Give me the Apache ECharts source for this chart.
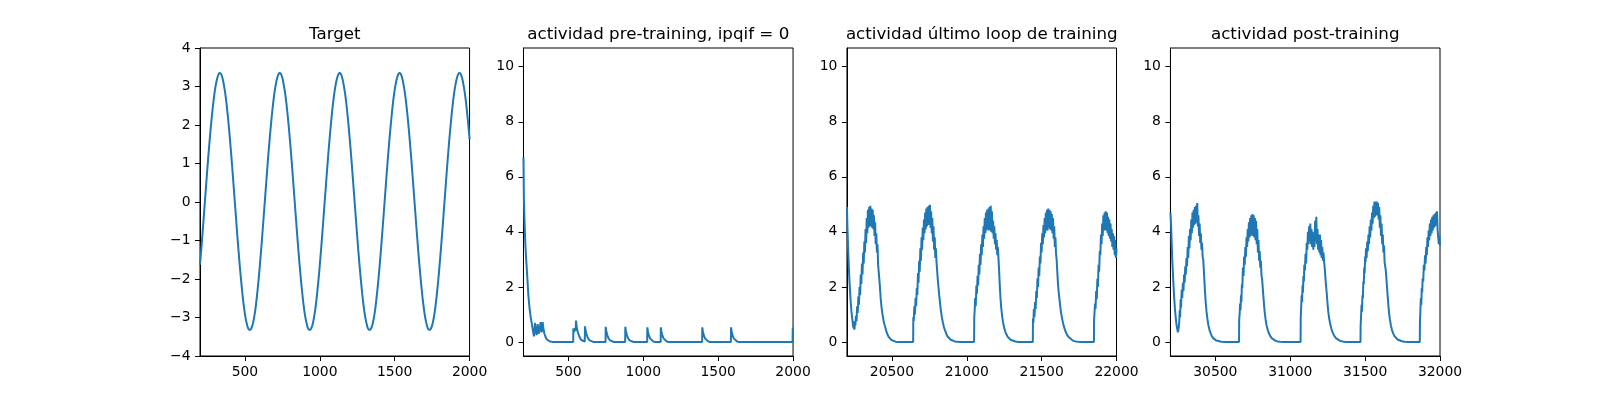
<!DOCTYPE html>
<html>
<head>
<meta charset="utf-8">
<script src="https://cdn.jsdelivr.net/npm/echarts@6/dist/echarts.min.js"></script>
<style>
html,body{margin:0;padding:0;background:#fff;}
#chart{width:1600px;height:400px;}
</style>
</head>
<body>
<div id="chart"></div>
<script>
// ---------- DATA ----------
const panelTitles = ['Target', 'actividad pre-training, ipqif = 0', 'actividad último loop de training', 'actividad post-training'];

// Target: sampled every 10 time units from t = 200
const targetStart = 200;
const targetStep = 10;
const targetValues = [
-1.63,-1.16,-0.65,-0.13,0.39,0.91,1.40,1.85,2.26,2.62,2.91,3.13,3.28,3.35,3.33,3.22,3.03,2.78,2.45,2.07,
1.63,1.16,0.65,0.13,-0.39,-0.91,-1.40,-1.85,-2.26,-2.62,-2.91,-3.12,-3.27,-3.32,-3.30,-3.21,-3.03,-2.78,-2.45,-2.07,
-1.63,-1.16,-0.65,-0.13,0.39,0.91,1.40,1.85,2.26,2.62,2.91,3.13,3.28,3.35,3.33,3.22,3.03,2.78,2.45,2.07,
1.63,1.16,0.65,0.13,-0.39,-0.91,-1.40,-1.85,-2.26,-2.62,-2.91,-3.12,-3.27,-3.32,-3.30,-3.21,-3.03,-2.78,-2.45,-2.07,
-1.63,-1.16,-0.65,-0.13,0.39,0.91,1.40,1.85,2.26,2.62,2.91,3.13,3.28,3.35,3.33,3.22,3.03,2.78,2.45,2.07,
1.63,1.16,0.65,0.13,-0.39,-0.91,-1.40,-1.85,-2.26,-2.62,-2.91,-3.12,-3.27,-3.32,-3.30,-3.21,-3.03,-2.78,-2.45,-2.07,
-1.63,-1.16,-0.65,-0.13,0.39,0.91,1.40,1.85,2.26,2.62,2.91,3.13,3.28,3.35,3.33,3.22,3.03,2.78,2.45,2.07,
1.63,1.16,0.65,0.13,-0.39,-0.91,-1.40,-1.85,-2.26,-2.62,-2.91,-3.12,-3.27,-3.32,-3.30,-3.21,-3.03,-2.78,-2.45,-2.07,
-1.63,-1.16,-0.65,-0.13,0.39,0.91,1.40,1.85,2.26,2.62,2.91,3.13,3.28,3.35,3.33,3.22,3.03,2.78,2.45,2.07,
1.63
];

// Pre-training activity [t, value]
const preTraining = [
[200,6.7],[203,5.2],[207,4.4],[212,3.6],[218,3.0],[225,2.4],[232,1.75],[240,1.25],[248,0.9],[255,0.68],[262,0.45],[267,0.3],[270,0.2],
[277,0.69],[282,0.42],[288,0.25],[295,0.65],[299,0.42],[303,0.3],[315,0.72],[318,0.5],[321,0.35],[328,0.72],[333,0.48],[340,0.3],
[348,0.17],[356,0.09],[366,0.04],[378,0.015],[392,0.003],[405,0],
[532,0],[533,0.5],[537,0.35],[541,0.3],[545,0.5],[548,0.4],[551,0.78],[555,0.55],[560,0.42],[566,0.3],[574,0.18],[584,0.08],[596,0.03],[609,0.01],
[611,0.57],[615,0.42],[621,0.28],[629,0.15],[639,0.07],[651,0.025],[666,0],
[748,0],[749,0.55],[753,0.4],[759,0.26],[767,0.14],[777,0.06],[789,0.02],[804,0],
[879,0],[880,0.55],[884,0.4],[890,0.26],[898,0.14],[908,0.06],[920,0.02],[935,0],
[1026,0],[1027,0.53],[1031,0.38],[1037,0.25],[1045,0.13],[1055,0.06],[1067,0.02],[1082,0],
[1116,0],[1117,0.53],[1121,0.38],[1127,0.25],[1135,0.13],[1145,0.06],[1157,0.02],[1172,0],
[1393,0],[1394,0.53],[1398,0.38],[1404,0.25],[1412,0.13],[1422,0.06],[1434,0.02],[1449,0],
[1585,0],[1586,0.53],[1590,0.38],[1596,0.25],[1604,0.13],[1614,0.06],[1626,0.02],[1641,0],
[1997,0],[1998,0.52],[2000,0.46]
];

// Last training loop activity [t, value]
const lastLoop = [
[20200,4.9],[20203,4.2],[20207,3.5],[20211,2.9],[20215,2.4],[20220,1.9],[20225,1.45],[20230,1.1],[20235,0.85],[20240,0.62],[20244,0.5],[20247,0.75],[20250,0.45],[20253,0.7],
[20256,0.6],[20260,0.95],[20264,0.75],[20268,1.3],[20272,1.05],[20276,1.65],[20280,1.35],[20284,2.0],[20288,1.7],[20292,2.45],[20296,2.1],[20300,2.85],[20304,2.45],[20308,3.25],[20312,2.85],
[20316,3.65],[20320,3.25],[20324,4.1],[20328,3.6],[20332,4.5],[20336,3.95],[20340,4.8],[20344,4.15],[20348,4.9],[20352,4.2],[20356,4.95],[20360,4.2],[20364,4.85],[20368,4.15],[20372,4.8],
[20376,4.1],[20380,4.6],[20384,3.85],[20388,4.35],[20392,3.55],[20396,3.95],[20400,3.25],[20404,3.55],[20408,2.8],[20412,2.75],[20416,2.3],[20420,2.0],[20425,1.6],[20430,1.3],[20436,1.05],
[20442,0.85],[20448,0.68],[20455,0.55],[20462,0.4],[20470,0.28],[20478,0.19],[20487,0.12],[20497,0.07],[20510,0.03],[20525,0.01],[20540,0],
[20642,0],[20643,0.9],[20646,0.75],[20650,1.3],[20654,1.0],[20658,1.6],[20662,1.3],[20666,1.95],[20670,1.7],[20674,2.5],[20678,2.15],[20682,2.95],[20686,2.55],[20690,3.4],[20694,2.95],
[20698,3.8],[20702,3.35],[20706,4.15],[20710,3.7],[20714,4.45],[20718,3.95],[20722,4.7],[20726,4.1],[20730,4.85],[20734,4.2],[20738,4.9],[20742,4.25],[20746,4.95],[20750,4.25],[20754,4.98],
[20758,4.15],[20762,4.75],[20766,3.95],[20770,4.5],[20774,3.65],[20778,4.2],[20782,3.35],[20786,3.8],[20790,3.05],[20794,3.4],[20798,2.9],[20802,2.6],[20806,2.3],[20811,2.0],[20816,1.7],
[20821,1.45],[20827,1.15],[20833,0.92],[20840,0.72],[20847,0.55],[20855,0.42],[20863,0.3],[20872,0.2],[20882,0.13],[20893,0.08],[20905,0.05],[20920,0.02],[20940,0.005],[20960,0],
[21049,0],[21050,0.9],[21053,1.15],[21056,1.6],[21060,1.3],[21064,2.05],[21068,1.75],[21072,2.4],[21076,2.05],[21080,2.8],[21084,2.45],[21088,3.2],[21092,2.8],[21096,3.55],[21100,3.15],
[21104,3.9],[21108,3.45],[21112,4.2],[21116,3.75],[21120,4.5],[21124,3.95],[21128,4.7],[21132,4.05],[21136,4.8],[21140,4.1],[21144,4.85],[21148,4.05],[21152,4.9],[21156,4.05],[21160,4.95],
[21164,4.0],[21168,4.75],[21172,3.95],[21176,4.4],[21180,3.75],[21184,4.2],[21188,3.55],[21192,3.95],[21196,3.35],[21200,3.7],[21204,3.15],[21208,3.45],[21212,3.0],[21216,2.6],[21220,2.1],
[21225,1.6],[21230,1.25],[21236,0.95],[21242,0.72],[21249,0.53],[21257,0.38],[21265,0.27],[21274,0.18],[21284,0.11],[21295,0.07],[21308,0.04],[21325,0.015],[21345,0],
[21441,0],[21442,0.85],[21445,0.7],[21448,1.2],[21452,0.9],[21456,1.45],[21460,1.2],[21464,1.85],[21468,1.6],[21472,2.3],[21476,2.0],[21480,2.7],[21484,2.4],[21488,3.1],[21492,2.85],
[21496,3.6],[21500,3.25],[21504,3.95],[21508,3.55],[21512,4.25],[21516,3.8],[21520,4.5],[21524,3.95],[21528,4.7],[21532,4.05],[21536,4.8],[21540,4.05],[21544,4.85],[21548,4.15],[21552,4.8],
[21556,4.1],[21560,4.75],[21564,4.05],[21568,4.65],[21572,3.95],[21576,4.5],[21580,3.75],[21584,4.2],[21588,3.45],[21592,3.8],[21596,3.2],[21600,3.0],[21604,2.6],[21608,2.2],[21613,1.85],
[21618,1.6],[21624,1.3],[21630,1.05],[21637,0.84],[21644,0.66],[21652,0.5],[21661,0.36],[21671,0.25],[21682,0.17],[21694,0.1],[21708,0.05],[21725,0.02],[21745,0.005],[21765,0],
[21849,0],[21850,0.8],[21853,1.05],[21856,1.4],[21860,1.2],[21864,1.85],[21868,1.55],[21872,2.3],[21876,2.0],[21880,2.8],[21884,2.55],[21888,3.3],[21892,3.15],[21896,3.9],[21900,3.55],
[21904,4.3],[21908,3.85],[21912,4.6],[21916,4.05],[21920,4.7],[21924,4.05],[21928,4.75],[21932,4.05],[21936,4.7],[21940,3.95],[21944,4.55],[21948,3.85],[21952,4.45],[21956,3.75],[21960,4.3],
[21964,3.65],[21968,4.1],[21972,3.45],[21976,3.95],[21980,3.35],[21984,3.85],[21988,3.15],[21992,3.7],[21996,3.05],[22000,3.4]
];

// Post-training activity [t, value]
const postTraining = [
[30200,4.7],[30204,4.3],[30208,3.6],[30212,3.0],[30216,2.55],[30220,2.1],[30225,1.6],[30230,1.2],[30235,0.9],[30240,0.65],[30245,0.48],[30250,0.35],[30253,0.3],
[30256,0.55],[30259,0.75],[30262,1.15],[30265,0.9],[30268,1.55],[30271,1.25],[30275,1.9],[30279,1.6],[30283,2.15],[30287,1.85],[30291,2.45],[30295,2.15],[30299,2.75],[30303,2.45],[30307,3.05],
[30311,2.75],[30315,3.45],[30319,3.05],[30323,3.85],[30327,3.4],[30331,4.1],[30335,3.7],[30339,4.45],[30343,3.95],[30347,4.7],[30351,4.15],[30355,4.8],[30359,4.25],[30363,4.9],[30367,4.3],
[30371,4.95],[30375,4.35],[30379,5.05],[30383,4.2],[30387,4.6],[30391,3.85],[30395,4.3],[30399,3.6],[30403,3.95],[30407,3.35],[30411,3.6],[30415,3.1],[30419,3.0],[30423,2.6],[30427,2.2],
[30431,1.8],[30436,1.4],[30441,1.1],[30447,0.83],[30453,0.62],[30460,0.45],[30468,0.32],[30476,0.22],[30485,0.14],[30495,0.09],[30507,0.05],[30520,0.025],[30540,0.01],[30560,0],
[30658,0],[30659,0.8],[30662,1.0],[30665,1.4],[30668,1.15],[30671,1.7],[30674,1.45],[30677,2.1],[30680,1.95],[30684,2.7],[30688,2.4],[30692,3.1],[30696,2.8],[30700,3.45],[30704,3.1],
[30708,3.8],[30712,3.45],[30716,4.1],[30720,3.65],[30724,4.35],[30728,3.8],[30732,4.5],[30736,3.85],[30740,4.6],[30744,3.9],[30748,4.65],[30752,3.85],[30756,4.6],[30760,3.8],[30764,4.5],
[30768,3.7],[30772,4.4],[30776,3.55],[30780,4.1],[30784,3.25],[30788,3.7],[30792,2.95],[30796,3.3],[30800,2.7],[30804,2.95],[30808,2.4],[30812,2.3],[30816,2.0],[30820,1.7],[30825,1.35],
[30830,1.05],[30836,0.8],[30842,0.6],[30849,0.45],[30857,0.32],[30866,0.22],[30876,0.14],[30887,0.09],[30900,0.05],[30915,0.02],[30935,0.005],[30955,0],
[31069,0],[31070,0.9],[31073,1.25],[31076,1.7],[31079,1.45],[31082,2.05],[31085,1.8],[31088,2.4],[31091,2.2],[31094,2.8],[31098,2.6],[31102,3.2],[31106,2.85],[31110,3.6],[31114,3.35],
[31118,4.0],[31122,3.55],[31126,4.2],[31130,3.65],[31134,4.3],[31138,3.55],[31142,4.1],[31146,3.45],[31150,4.0],[31154,3.35],[31158,3.9],[31162,3.45],[31166,4.4],[31170,3.65],[31174,4.55],
[31178,3.55],[31182,4.1],[31186,3.35],[31190,3.9],[31194,3.25],[31198,3.9],[31202,3.15],[31206,3.7],[31210,3.05],[31214,3.45],[31218,2.95],[31222,3.25],[31226,2.9],[31230,2.7],[31234,2.4],
[31238,2.1],[31243,1.8],[31248,1.45],[31254,1.1],[31260,0.85],[31267,0.65],[31275,0.47],[31284,0.33],[31294,0.22],[31305,0.14],[31318,0.08],[31333,0.04],[31350,0.015],[31370,0],
[31469,0],[31470,0.6],[31473,0.95],[31476,1.35],[31479,1.1],[31482,1.7],[31485,1.6],[31488,2.2],[31491,2.1],[31494,2.7],[31497,2.5],[31500,3.1],[31503,2.9],[31506,3.4],[31510,3.05],
[31514,3.65],[31518,3.3],[31522,3.9],[31526,3.55],[31530,4.2],[31534,3.8],[31538,4.45],[31542,4.05],[31546,4.7],[31550,4.3],[31554,4.95],[31558,4.5],[31562,5.1],[31566,4.55],[31570,5.1],
[31574,4.6],[31578,5.1],[31582,4.6],[31586,5.05],[31590,4.45],[31594,4.9],[31598,4.15],[31602,4.6],[31606,3.85],[31610,4.3],[31614,3.55],[31618,3.9],[31622,3.25],[31626,3.5],[31630,2.9],
[31634,2.9],[31638,2.6],[31642,2.3],[31646,2.0],[31650,1.7],[31655,1.35],[31660,1.05],[31666,0.8],[31672,0.6],[31679,0.44],[31687,0.31],[31696,0.21],[31706,0.14],[31717,0.09],[31730,0.05],
[31745,0.025],[31765,0.005],[31785,0],
[31865,0],[31866,0.7],[31869,1.15],[31872,1.6],[31875,1.35],[31878,1.95],[31881,1.8],[31884,2.3],[31888,2.2],[31892,2.8],[31896,2.6],[31900,3.15],[31904,2.85],[31908,3.45],[31912,3.15],
[31916,3.8],[31920,3.45],[31924,4.05],[31928,3.7],[31932,4.3],[31936,3.85],[31940,4.45],[31944,3.95],[31948,4.55],[31952,4.05],[31956,4.6],[31960,4.15],[31964,4.65],[31968,4.2],[31972,4.7],
[31976,4.25],[31980,4.75],[31984,4.05],[31988,4.1],[31992,3.55],[31996,3.85],[32000,3.5]
];

// Axis ranges and tick labels
const xRanges = [[200,2000],[200,2000],[20200,22000],[30200,32000]];
const xTicks = [[500,1000,1500,2000],[500,1000,1500,2000],[20500,21000,21500,22000],[30500,31000,31500,32000]];
const yRanges = [[-4,4],[-0.51,10.68],[-0.51,10.68],[-0.51,10.68]];
const yTicks = [[-4,-3,-2,-1,0,1,2,3,4],[0,2,4,6,8,10],[0,2,4,6,8,10],[0,2,4,6,8,10]];

// ---------- CHART ----------
const targetPts = targetValues.map((v, i) => [targetStart + i * targetStep, v]);
const seriesData = [targetPts, preTraining, lastLoop, postTraining];

const FONT = 'DejaVu Sans';
const fmt = v => (v < 0 ? '\u2212' + String(-v) : String(v));
const panelLeft0 = 200, panelW = 269.57, panelGap = 53.91, panelTop = 48, panelH = 308;
const lefts = [0,1,2,3].map(i => panelLeft0 + i * (panelW + panelGap));

const grids = [], xAxes = [], yAxes = [], series = [], titles = [];
for (let i = 0; i < 4; i++) {
  grids.push({left: lefts[i], top: panelTop, width: panelW, height: panelH,
    show: true, borderColor: '#000', borderWidth: 1, backgroundColor: 'transparent', containLabel: false});
  xAxes.push({type: 'value', gridIndex: i, min: xRanges[i][0], max: xRanges[i][1],
    axisLine: {show: true, onZero: false, lineStyle: {color: '#000', width: 1}},
    axisTick: {show: true, inside: false, length: 5, lineStyle: {color: '#000', width: 1}, customValues: xTicks[i]},
    axisLabel: {show: true, margin: 9, color: '#000', fontFamily: FONT, fontSize: 13.9, customValues: xTicks[i], formatter: fmt},
    splitLine: {show: false}});
  yAxes.push({type: 'value', gridIndex: i, min: yRanges[i][0], max: yRanges[i][1],
    axisLine: {show: true, onZero: false, lineStyle: {color: '#000', width: 1}},
    axisTick: {show: true, inside: false, length: 5, lineStyle: {color: '#000', width: 1}, customValues: yTicks[i]},
    axisLabel: {show: true, margin: 9.5, color: '#000', fontFamily: FONT, fontSize: 13.9, customValues: yTicks[i], formatter: fmt},
    splitLine: {show: false}});
  series.push({type: 'line', xAxisIndex: i, yAxisIndex: i, data: seriesData[i],
    showSymbol: false, symbol: 'none', smooth: i === 0 ? 0.3 : false, clip: true,
    lineStyle: {color: '#1f77b4', width: 2}, animation: false});
  titles.push({text: panelTitles[i], left: lefts[i] + panelW / 2, top: 26, textAlign: 'center',
    padding: 0, textStyle: {fontFamily: FONT, fontSize: 16.7, fontWeight: 'normal', color: '#000'}});
}

const chart = echarts.init(document.getElementById('chart'), null, {renderer: 'canvas'});
chart.setOption({
  backgroundColor: '#fff',
  animation: false,
  title: titles,
  grid: grids,
  xAxis: xAxes,
  yAxis: yAxes,
  series: series
});
</script>
</body>
</html>
